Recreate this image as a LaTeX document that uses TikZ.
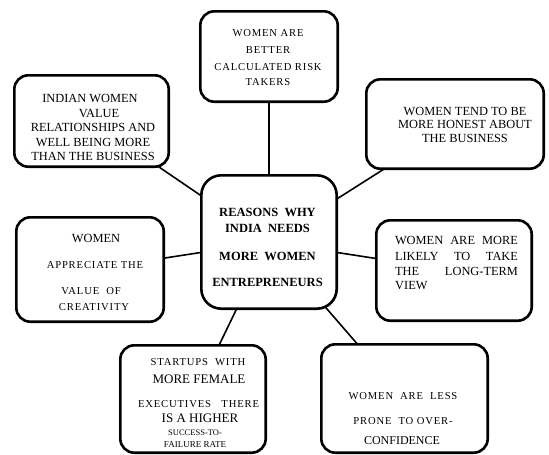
\documentclass[tikz,border=0pt]{standalone}
\usepackage{fontspec}
\setmainfont{Liberation Serif}
\newfontfamily\spacedfont[LetterSpace=8]{Liberation Serif}
\usetikzlibrary{backgrounds,shadows}

\tikzset{
  card/.style={draw, line width=2.6pt, rounded corners=14pt, fill=white, inner sep=0pt,
    drop shadow={shadow xshift=1.2pt, shadow yshift=-1.2pt, opacity=0.3}},
  link/.style={line width=1.6pt},
  plain/.style={inner sep=0pt, font=\fontsize{12.4}{14}\selectfont},
  wide/.style={inner sep=0pt, font=\spacedfont\fontsize{10.6}{12}\selectfont},
  heavy/.style={inner sep=0pt, font=\bfseries\fontsize{12.5}{14}\selectfont},
}

\begin{document}
\begin{tikzpicture}[x=1pt, y=-1pt]
    \useasboundingbox (0,0) rectangle (549,455);

    \node[card, minimum width=137.4pt, minimum height=90.4pt] (tp) at (269,56.5) {};
    \node[card, minimum width=154.4pt, minimum height=91.4pt] (lt) at (91.5,121) {};
    \node[card, minimum width=177.4pt, minimum height=89.4pt] (rt) at (455,124) {};
    \node[card, rounded corners=20pt, minimum width=135.4pt, minimum height=133.4pt] (ctr) at (269,242) {};
    \node[card, minimum width=147.4pt, minimum height=104.4pt] (lm) at (90,269.5) {};
    \node[card, minimum width=155.4pt, minimum height=100.4pt] (rm) at (454,270.5) {};
    \node[card, minimum width=145.4pt, minimum height=107.4pt] (bl) at (193,399) {};
    \node[card, minimum width=166.4pt, minimum height=108.4pt] (br) at (404.5,398.5) {};

    \begin{scope}[on background layer]
      \fill[white] (0,0) rectangle (549,455);
      \foreach \b in {tp,lt,rt,lm,rm,bl,br}
        \draw[link] (ctr.center) -- (\b.center);
    \end{scope}

    \foreach \y/\t [count=\i] in {33/WOMEN ARE, 50/BETTER, 67/CALCULATED RISK, 82/TAKERS}
      \node[wide] (tp-\i) at (268,\y) {\t};

    \foreach \x/\y/\t [count=\i] in {90/98/INDIAN WOMEN, 99/113/VALUE, 93/127/RELATIONSHIPS AND,
        93/142/WELL BEING MORE, 93/156/THAN THE BUSINESS}
      \node[plain] (lt-\i) at (\x,\y) {\t};

    \foreach \y/\t [count=\i] in {111/WOMEN TEND TO BE, 124.5/MORE HONEST ABOUT, 138/THE BUSINESS}
      \node[plain] (rt-\i) at (465,\y) {\t};

    \foreach \y/\t [count=\i] in {212/REASONS\ \ WHY, 228/INDIA\ \ NEEDS, 256/MORE\ \ WOMEN, 282/ENTREPRENEURS}
      \node[heavy] (ctr-\i) at (267.5,\y) {\t};

    \node[plain] (lm-1) at (96,238) {WOMEN};
    \foreach \x/\y/\t [count=\i from 2] in {95/265/APPRECIATE THE, 91/291/VALUE\ \ OF, 94/307/CREATIVITY}
      \node[wide] (lm-\i) at (\x,\y) {\t};

    \foreach \y/\t [count=\i] in {240/WOMEN ARE MORE, 256/LIKELY TO TAKE, 271/THE LONG-TERM}
      \node[plain] (rm-\i) at (456.5,\y) {\makebox[123pt][s]{\t}};
    \node[plain, anchor=west] (rm-4) at (395,286) {VIEW};

    \node[wide] (bl-1) at (198,362) {STARTUPS\ \ WITH};
    \node[plain, font=\fontsize{13}{15}\selectfont] (bl-2) at (199,379) {MORE FEMALE};
    \node[wide] (bl-3) at (198.5,404) {\makebox[121pt][s]{EXECUTIVES THERE}};
    \node[plain, font=\fontsize{13}{15}\selectfont] (bl-4) at (200,418) {IS A HIGHER};
    \node[plain, font=\fontsize{8.5}{10}\selectfont] (bl-5) at (195,433) {SUCCESS-TO-};
    \node[plain, font=\fontsize{9}{10}\selectfont] (bl-6) at (195,445) {FAILURE RATE};

    \node[wide] (br-1) at (403,396) {WOMEN\ \ ARE\ \ LESS};
    \node[wide] (br-2) at (403,421) {PRONE\ \ TO\ OVER-};
    \node[plain, font=\fontsize{12}{14}\selectfont] (br-3) at (402,441) {CONFIDENCE};
  \end{tikzpicture}
\end{document}
